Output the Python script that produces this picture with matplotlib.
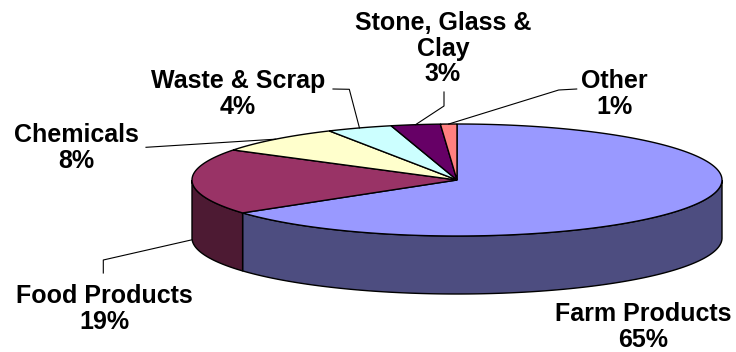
import numpy as np
import matplotlib
matplotlib.use("Agg")
import matplotlib.pyplot as plt
from matplotlib.patches import Polygon
from matplotlib.colors import to_rgb

# ---- data ----
categories = ["Farm Products", "Food Products", "Chemicals", "Waste & Scrap",
              "Stone, Glass &\nClay", "Other"]
values = [65, 19, 8, 4, 3, 1]
pct_labels = ["65%", "19%", "8%", "4%", "3%", "1%"]
colors = ["#9999FF", "#993366", "#FFFFCC", "#CCFFFF", "#660066", "#FF8080"]

# ---- layout (pixel space) ----
W, H = 736, 352
cx, cy, a, b, depth = 457, 180, 265, 56, 58
label_pos = [(643, 302), (104, 284), (76, 123), (238, 69), (443, 11), (614, 69)]
leader_pts = [None,
              [(103.3, 273), (103.3, 260)],
              [(146, 147.3)],
              [(333, 89), (349.3, 89.3)],
              [(444, 92), (444, 106)],
              [(576.7, 89), (558.7, 90)]]

fig = plt.figure(figsize=(W / 100, H / 100), dpi=100)
ax = fig.add_axes([0, 0, 1, 1])
ax.set_xlim(0, W)
ax.set_ylim(H, 0)
ax.axis("off")


def pt(t, dz=0.0):
    r = np.radians(t)
    return cx + a * np.cos(r), cy - b * np.sin(r) + dz


def arc(t1, t2, dz=0.0, n=200):
    ts = np.linspace(t1, t2, n)
    r = np.radians(ts)
    return np.column_stack([cx + a * np.cos(r), cy - b * np.sin(r) + dz])


total = float(sum(values))
cum = np.concatenate([[0], np.cumsum(values)])
th1 = 90 - 360 * cum[:-1] / total
th2 = 90 - 360 * cum[1:] / total

# side faces (front half only)
for i in range(len(values)):
    lo, hi = th2[i], th1[i]
    side_col = tuple(c * 0.5 for c in to_rgb(colors[i]))
    for k in (-1, 0, 1):
        f_lo, f_hi = -180 + 360 * k, 360 * k
        s_lo, s_hi = max(lo, f_lo), min(hi, f_hi)
        if s_hi - s_lo > 1e-6:
            top = arc(s_lo, s_hi)
            bot = arc(s_hi, s_lo, dz=depth)
            poly = np.vstack([top, bot])
            ax.add_patch(Polygon(poly, closed=True, facecolor=side_col,
                                 edgecolor="black", linewidth=1.0, zorder=2))

# top faces
for i in range(len(values)):
    pts = np.vstack([[cx, cy], arc(th1[i], th2[i])])
    ax.add_patch(Polygon(pts, closed=True, facecolor=colors[i],
                         edgecolor="black", linewidth=1.0, zorder=3))

# leader lines
for i in range(len(values)):
    if leader_pts[i] is None:
        continue
    mid = (th1[i] + th2[i]) / 2
    s = np.sin(np.radians(mid))
    end = pt(mid, dz=depth if s < 0 else 0.0)
    xs = [p[0] for p in leader_pts[i]] + [end[0]]
    ys = [p[1] for p in leader_pts[i]] + [end[1]]
    ax.plot(xs, ys, color="black", linewidth=0.8, zorder=4)

# labels
for i in range(len(values)):
    x, y = label_pos[i]
    ax.text(x, y, categories[i] + "\n" + pct_labels[i], ha="center", va="top",
            fontsize=18, fontweight="bold", family="Liberation Sans",
            linespacing=1.08, zorder=5)

fig.savefig("out.png", dpi=100)
